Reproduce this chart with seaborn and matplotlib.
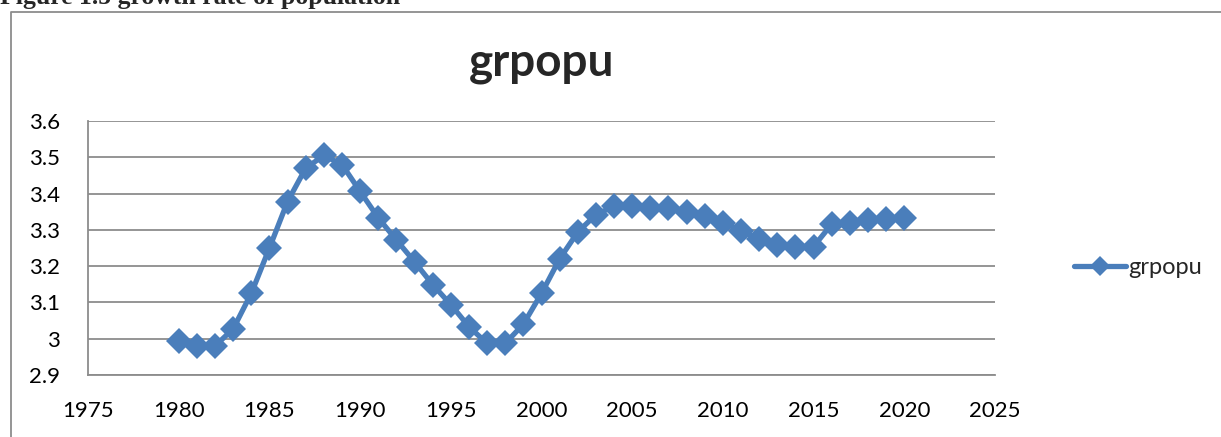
import matplotlib
matplotlib.use("Agg")
import matplotlib.pyplot as plt
import seaborn as sns
import pandas as pd
from matplotlib.lines import Line2D

years = list(range(1980, 2021))
grpopu = [2.995, 2.980, 2.980, 3.027, 3.125, 3.250, 3.378, 3.470, 3.505, 3.480,
          3.406, 3.333, 3.272, 3.212, 3.149, 3.094, 3.033, 2.987, 2.987, 3.040,
          3.125, 3.220, 3.294, 3.342, 3.365, 3.365, 3.361, 3.360, 3.350, 3.338,
          3.320, 3.298, 3.274, 3.258, 3.254, 3.254, 3.316, 3.320, 3.326, 3.329,
          3.334]
xticks = list(range(1975, 2030, 5))
yticks = [2.9, 3.0, 3.1, 3.2, 3.3, 3.4, 3.5, 3.6]
ylabels = ["2.9", "3", "3.1", "3.2", "3.3", "3.4", "3.5", "3.6"]

df = pd.DataFrame({"year": years, "grpopu": grpopu})

sns.set_theme(style="white")
plt.rcParams["font.family"] = ["Lato", "DejaVu Sans"]

blue = "#4A7EBB"
grid = "#8C8C8C"

fig = plt.figure(figsize=(12.21, 4.37), dpi=100)
ax = fig.add_axes([0.0721, 0.1419, 0.8149 - 0.0721, 0.7231 - 0.1419])

sns.lineplot(data=df, x="year", y="grpopu", ax=ax, color=blue, linewidth=3.8,
             marker="D", markersize=13, markeredgewidth=0, legend=False)

ax.set_xlim(1975, 2025)
ax.set_ylim(2.9, 3.6)
ax.set_xticks(xticks)
ax.set_xticklabels([str(t) for t in xticks], fontsize=16)
ax.set_yticks(yticks)
ax.set_yticklabels(ylabels, fontsize=16)
ax.yaxis.grid(True, color=grid, linewidth=1.3)
ax.set_axisbelow(True)
for s in ["top", "right"]:
    ax.spines[s].set_visible(False)
for s in ["left", "bottom"]:
    ax.spines[s].set_color(grid)
    ax.spines[s].set_linewidth(1.3)
ax.tick_params(axis="both", which="major", direction="out", length=6,
               width=1.3, color=grid, labelcolor="black")
ax.tick_params(axis="x", pad=13)
ax.tick_params(axis="y", pad=14)
ax.set_xlabel("")
ax.set_ylabel("")

ax.set_title("grpopu", fontsize=33, fontweight="bold", pad=33)

handle = Line2D([], [], color=blue, linewidth=3.8, marker="D", markersize=10,
                markeredgewidth=0)
fig.legend([handle], ["grpopu"], loc="center left", bbox_to_anchor=(0.862, 0.388),
           frameon=False, fontsize=17, handlelength=2.2, handletextpad=0.1)

# chart frame and caption (clipped at the top, as in the source)
fig.add_artist(Line2D([0.009, 0.009, 1.01], [0.0, 0.9725, 0.9725],
                      transform=fig.transFigure, color=grid, linewidth=1.3))
fig.text(0.0, 0.991, "Figure 1.5 growth rate of population", fontsize=18.5,
         fontweight="bold", family=["Liberation Serif"], va="baseline")

fig.savefig("out.png", dpi=100)
